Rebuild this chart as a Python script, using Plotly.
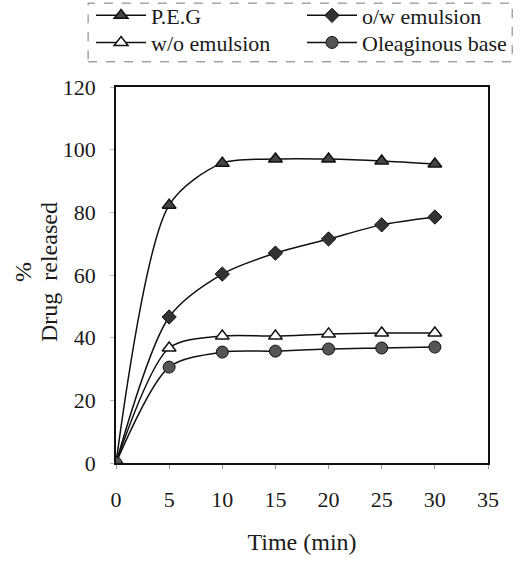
import plotly.graph_objects as go

time = [0, 5, 10, 15, 20, 25, 30]
peg = [0, 82.3, 95.7, 97.0, 97.0, 96.4, 95.4]
ow = [0, 46.6, 60.3, 67.0, 71.5, 76.0, 78.5]
wo = [0, 36.7, 40.5, 40.5, 41.2, 41.5, 41.5]
olea = [0, 30.6, 35.4, 35.7, 36.4, 36.7, 37.0]

x_ticks = [0, 5, 10, 15, 20, 25, 30, 35]
y_ticks = [0, 20, 40, 60, 80, 100, 120]

FONT = "Liberation Serif, Times New Roman, serif"
series = [
    ("P.E.G", peg, "legend", dict(symbol="triangle-up", size=12, color="#444", line=dict(color="#111", width=1.5))),
    ("o/w emulsion", ow, "legend2", dict(symbol="diamond", size=11, color="#333", line=dict(color="#111", width=1))),
    ("w/o emulsion", wo, "legend3", dict(symbol="triangle-up", size=12, color="white", line=dict(color="#111", width=1.5))),
    ("Oleaginous base", olea, "legend4", dict(symbol="circle", size=12, color="#555", line=dict(color="#111", width=1))),
]

fig = go.Figure()
for name, ys, lg, mk in series:
    fig.add_trace(go.Scatter(
        x=time, y=ys, name=name, mode="lines+markers", legend=lg,
        line=dict(color="#111", width=1.5, shape="spline", smoothing=0.8),
        marker=mk,
    ))

leg_common = dict(
    orientation="v", yanchor="middle", xanchor="left", itemwidth=50,
    font=dict(family=FONT, size=22, color="#1a1a1a"),
    bgcolor="rgba(0,0,0,0)", tracegroupgap=0, borderwidth=0,
)
col1, col2 = -0.067, 0.50
row1, row2 = 1.19, 1.118

fig.update_layout(
    width=522, height=561,
    margin=dict(l=116, r=34, t=87, b=98, autoexpand=False),
    paper_bgcolor="white", plot_bgcolor="white",
    font=dict(family=FONT, size=22, color="#1a1a1a"),
    showlegend=True,
    legend=dict(x=col1, y=row1, **leg_common),
    legend2=dict(x=col2, y=row1, **leg_common),
    legend3=dict(x=col1, y=row2, **leg_common),
    legend4=dict(x=col2, y=row2, **leg_common),
    shapes=[dict(type="rect", xref="paper", yref="paper",
                 x0=-0.075, x1=1.065, y0=1.067, y1=1.223,
                 line=dict(color="#777", width=1, dash="dash"))],
    annotations=[
        dict(text="%", textangle=-90, xref="paper", yref="paper",
             x=-0.25, y=0.508, xanchor="center", yanchor="middle",
             showarrow=False, font=dict(size=24)),
        dict(text="Drug  released", textangle=-90, xref="paper", yref="paper",
             x=-0.18, y=0.508, xanchor="center", yanchor="middle",
             showarrow=False, font=dict(size=24)),
    ],
)
fig.update_xaxes(
    range=[0, 35], tickvals=x_ticks, showgrid=False, zeroline=False,
    showline=True, linecolor="#111", linewidth=1.5, mirror=True,
    ticks="outside", ticklen=4, tickcolor="#999", ticklabelstandoff=12,
    title=dict(text="Time (min)", standoff=22, font=dict(size=24)),
)
fig.update_yaxes(
    range=[0, 120], tickvals=y_ticks, showgrid=False, zeroline=False,
    showline=True, linecolor="#111", linewidth=1.5, mirror=True,
    ticks="outside", ticklen=4, tickcolor="#bbb", ticklabelstandoff=10,
)

fig.write_html("out.html")
